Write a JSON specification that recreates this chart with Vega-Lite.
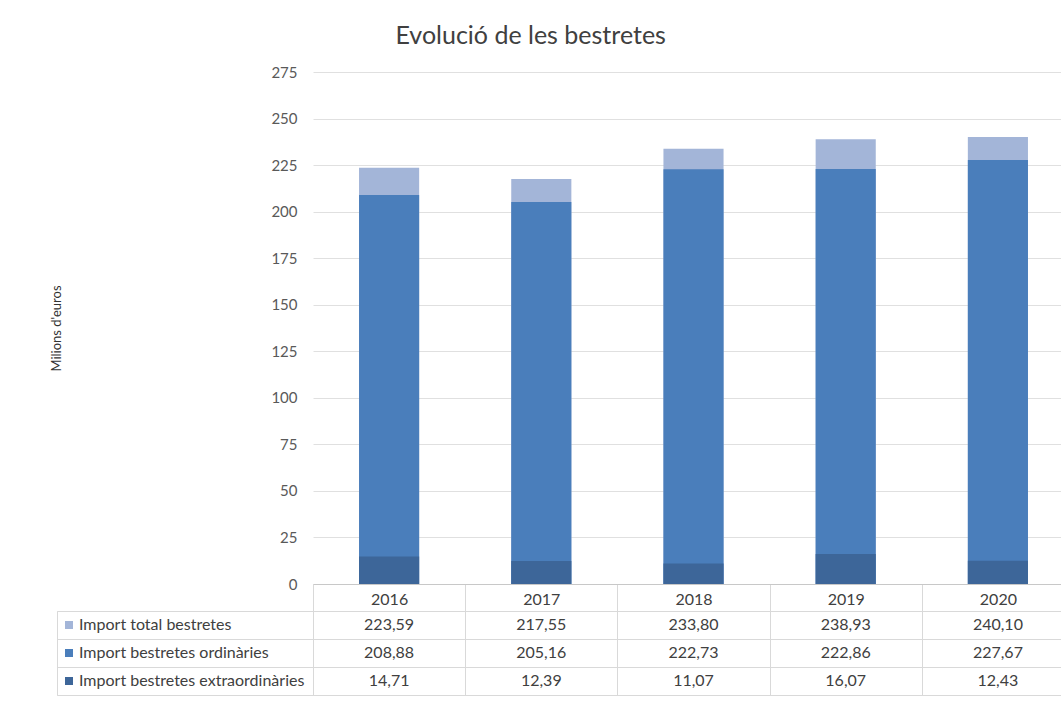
{
  "$schema": "https://vega.github.io/schema/vega-lite/v6.json",
  "background": "white",
  "padding": {"left": 50, "top": 24, "right": -13, "bottom": 30},
  "title": {"text": "Evolució de les bestretes", "anchor": "middle", "dx": -32, "fontSize": 25, "font": "Lato", "fontWeight": "normal", "color": "#404040", "offset": 16},
  "data": {"values": [
    {"year": "2016", "series": "Import total bestretes", "value": 223.59},
    {"year": "2017", "series": "Import total bestretes", "value": 217.55},
    {"year": "2018", "series": "Import total bestretes", "value": 233.80},
    {"year": "2019", "series": "Import total bestretes", "value": 238.93},
    {"year": "2020", "series": "Import total bestretes", "value": 240.10},
    {"year": "2016", "series": "Import bestretes ordinàries", "value": 208.88},
    {"year": "2017", "series": "Import bestretes ordinàries", "value": 205.16},
    {"year": "2018", "series": "Import bestretes ordinàries", "value": 222.73},
    {"year": "2019", "series": "Import bestretes ordinàries", "value": 222.86},
    {"year": "2020", "series": "Import bestretes ordinàries", "value": 227.67},
    {"year": "2016", "series": "Import bestretes extraordinàries", "value": 14.71},
    {"year": "2017", "series": "Import bestretes extraordinàries", "value": 12.39},
    {"year": "2018", "series": "Import bestretes extraordinàries", "value": 11.07},
    {"year": "2019", "series": "Import bestretes extraordinàries", "value": 16.07},
    {"year": "2020", "series": "Import bestretes extraordinàries", "value": 12.43}
  ]},
  "columns": 2,
  "spacing": {"row": 27, "column": 0},
  "bounds": "flush",
  "concat": [
    {
      "width": 256,
      "height": 512,
      "data": {"values": []},
      "mark": "text"
    },
    {
      "width": 761,
      "height": 512,
      "mark": {"type": "bar", "width": {"band": 0.395}},
      "encoding": {
        "x": {
          "field": "year", "type": "nominal",
          "scale": {"paddingInner": 0, "paddingOuter": 0},
          "axis": {"title": null, "labelAngle": 0, "labelFontSize": 16, "labelColor": "#404040", "tickBand": "extent", "tickSize": 27, "tickColor": "#d9d9d9", "domainColor": "#c8c8c8", "labelPadding": -20}
        },
        "y": {
          "field": "value", "type": "quantitative", "stack": null,
          "scale": {"domain": [0, 275], "nice": false},
          "axis": {"values": [0, 25, 50, 75, 100, 125, 150, 175, 200, 225, 250, 275], "grid": true, "gridColor": "#e0e0e0", "domain": false, "ticks": false, "labelPadding": 16, "labelFontSize": 15, "labelColor": "#595959", "title": "Milions d'euros", "titleFontSize": 13, "titleFontWeight": "normal", "titleColor": "#333333", "titlePadding": 207}
        },
        "color": {
          "field": "series", "type": "nominal",
          "scale": {"domain": ["Import total bestretes", "Import bestretes ordinàries", "Import bestretes extraordinàries"], "range": ["#a3b5d8", "#4a7ebb", "#3d6699"]},
          "legend": null
        }
      }
    },
    {
      "width": 256,
      "height": 84,
      "view": {"stroke": "#d9d9d9"},
      "transform": [{"filter": "datum.year == '2016'"}],
      "encoding": {
        "y": {
          "field": "series", "type": "nominal",
          "sort": ["Import total bestretes", "Import bestretes ordinàries", "Import bestretes extraordinàries"],
          "scale": {"paddingInner": 0, "paddingOuter": 0},
          "axis": {"grid": true, "tickBand": "extent", "labels": false, "ticks": false, "domain": false, "title": null, "gridColor": "#d9d9d9"}
        }
      },
      "layer": [
        {
          "mark": {"type": "point", "shape": "square", "filled": true, "size": 64, "opacity": 1},
          "encoding": {
            "x": {"datum": 12, "type": "quantitative", "scale": {"domain": [0, 256]}, "axis": null},
            "color": {
              "field": "series", "type": "nominal",
              "scale": {"domain": ["Import total bestretes", "Import bestretes ordinàries", "Import bestretes extraordinàries"], "range": ["#a3b5d8", "#4a7ebb", "#3d6699"]},
              "legend": null
            }
          }
        },
        {
          "mark": {"type": "text", "align": "left", "baseline": "middle", "fontSize": 16, "color": "#404040", "font": "Lato"},
          "encoding": {
            "x": {"datum": 22, "type": "quantitative", "scale": {"domain": [0, 256]}, "axis": null},
            "text": {"field": "series"}
          }
        }
      ]
    },
    {
      "width": 761,
      "height": 84,
      "view": {"stroke": "#d9d9d9"},
      "mark": {"type": "text", "align": "center", "baseline": "middle", "fontSize": 16, "color": "#404040", "font": "Lato"},
      "encoding": {
        "x": {
          "field": "year", "type": "nominal",
          "scale": {"paddingInner": 0, "paddingOuter": 0},
          "axis": {"grid": true, "tickBand": "extent", "labels": false, "ticks": false, "domain": false, "title": null, "gridColor": "#d9d9d9"}
        },
        "y": {
          "field": "series", "type": "nominal",
          "sort": ["Import total bestretes", "Import bestretes ordinàries", "Import bestretes extraordinàries"],
          "scale": {"paddingInner": 0, "paddingOuter": 0},
          "axis": {"grid": true, "tickBand": "extent", "labels": false, "ticks": false, "domain": false, "title": null, "gridColor": "#d9d9d9"}
        },
        "text": {"field": "value", "type": "quantitative", "format": ".2f"}
      }
    }
  ],
  "config": {
    "font": "Lato",
    "locale": {"number": {"decimal": ",", "thousands": ".", "grouping": [3], "currency": ["", " €"]}},
    "view": {"stroke": null}
  }
}
